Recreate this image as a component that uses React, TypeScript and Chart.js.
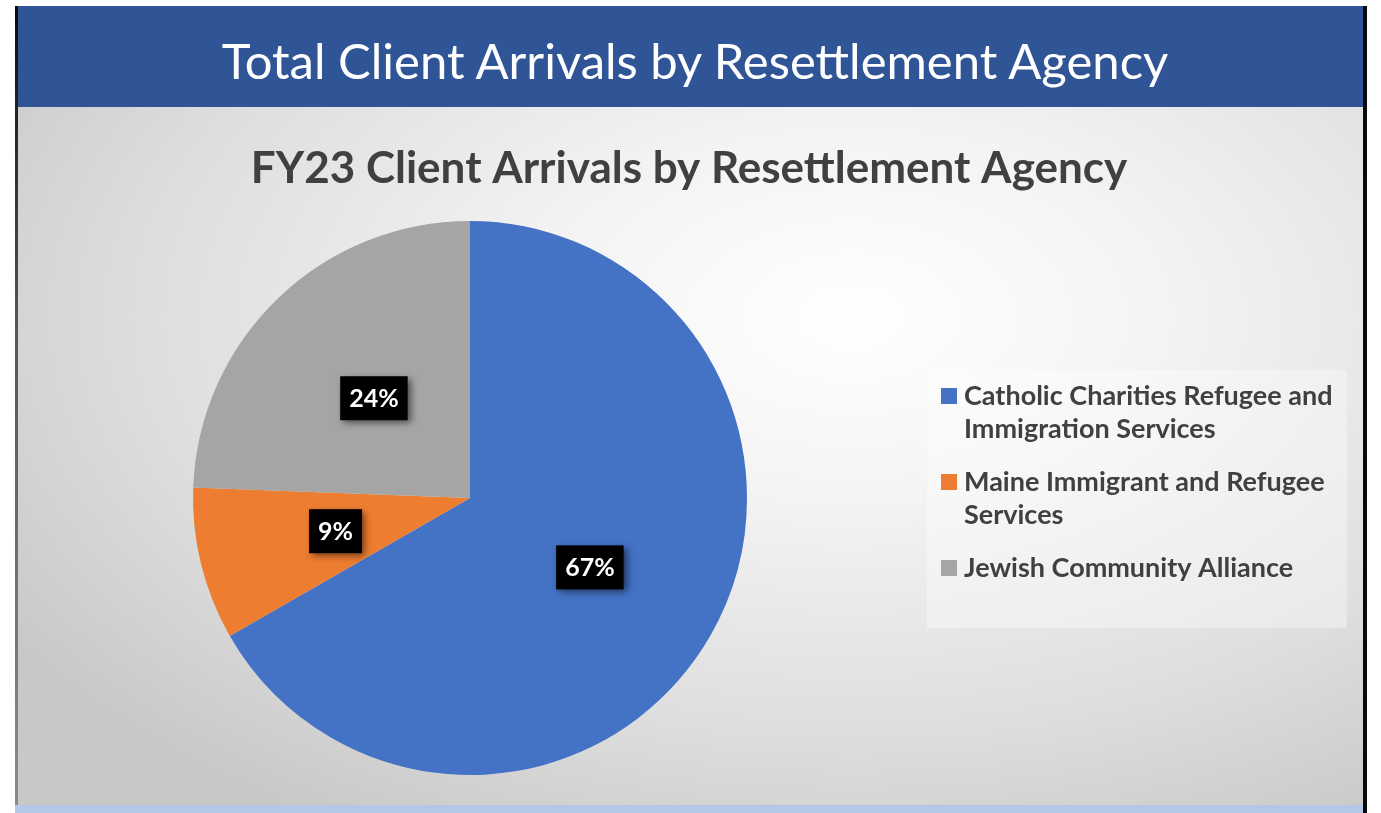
import React, { useEffect, useRef } from "react";
import { Chart, registerables } from "chart.js";

Chart.register(...registerables);

const bannerTitle = "Total Client Arrivals by Resettlement Agency";
const chartTitle = "FY23 Client Arrivals by Resettlement Agency";
const agencies = [
  "Catholic Charities Refugee and Immigration Services",
  "Maine Immigrant and Refugee Services",
  "Jewish Community Alliance",
];
const legendLines = [
  ["Catholic Charities Refugee and", "Immigration Services"],
  ["Maine Immigrant and Refugee", "Services"],
  ["Jewish Community Alliance"],
];
const shares = [66.7, 8.9, 24.4];
const sliceColors = ["#4472C4", "#ED7D31", "#A5A5A5"];

const FONT = "Lato, 'Open Sans', 'DejaVu Sans', sans-serif";

const dataLabelPlugin = {
  id: "boxedLabels",
  afterDatasetsDraw(chart: any) {
    const ctx = chart.ctx;
    const meta = chart.getDatasetMeta(0);
    const values = chart.data.datasets[0].data as number[];
    const total = values.reduce((a, b) => a + b, 0);
    ctx.save();
    ctx.font = `bold 25px ${FONT}`;
    ctx.textAlign = "center";
    ctx.textBaseline = "middle";
    meta.data.forEach((arc: any, i: number) => {
      const pos = arc.tooltipPosition();
      const text = Math.round((values[i] / total) * 100) + "%";
      const w = ctx.measureText(text).width + 18;
      const h = 44;
      ctx.save();
      ctx.shadowColor = "rgba(0,0,0,0.55)";
      ctx.shadowBlur = 7;
      ctx.shadowOffsetX = 3;
      ctx.shadowOffsetY = 3;
      ctx.fillStyle = "#000000";
      ctx.fillRect(pos.x - w / 2, pos.y - h / 2, w, h);
      ctx.restore();
      ctx.fillStyle = "#ffffff";
      ctx.fillText(text, pos.x, pos.y + 1);
    });
    ctx.restore();
  },
};

const headerAndLegendPlugin = {
  id: "headerAndLegend",
  afterDraw(chart: any) {
    const ctx = chart.ctx;
    ctx.save();
    // chart title
    ctx.font = `bold 44px ${FONT}`;
    ctx.fillStyle = "#404040";
    ctx.textAlign = "center";
    ctx.textBaseline = "middle";
    ctx.fillText(chartTitle, 671, 62);

    // legend box
    ctx.fillStyle = "rgba(255,255,255,0.35)";
    ctx.fillRect(909, 263, 420, 258);

    const colors = chart.data.datasets[0].backgroundColor as string[];
    ctx.font = `bold 27px ${FONT}`;
    ctx.textAlign = "left";
    ctx.textBaseline = "alphabetic";
    let baseline = 298;
    legendLines.forEach((lines, i) => {
      ctx.fillStyle = colors[i];
      ctx.fillRect(923, baseline - 17, 16, 16);
      ctx.fillStyle = "#404040";
      lines.forEach((line, j) => {
        ctx.fillText(line, 946, baseline);
        if (j < lines.length - 1) baseline += 33;
      });
      baseline += 53;
    });
    ctx.restore();
  },
};

export default function App() {
  const canvasRef = useRef<HTMLCanvasElement | null>(null);

  useEffect(() => {
    if (!canvasRef.current) return;
    const chart = new Chart(canvasRef.current, {
      type: "pie",
      data: {
        labels: agencies,
        datasets: [
          {
            data: shares,
            backgroundColor: sliceColors,
            borderWidth: 0,
          },
        ],
      },
      options: {
        animation: false,
        responsive: false,
        maintainAspectRatio: false,
        layout: { padding: { left: 175, right: 616, top: 114, bottom: 30 } },
        plugins: {
          legend: { display: false },
          tooltip: { enabled: false },
          title: { display: false },
        },
      },
      plugins: [dataLabelPlugin, headerAndLegendPlugin],
    });
    return () => chart.destroy();
  }, []);

  return (
    <div style={{ position: "absolute", left: 0, top: 0, width: 1381, height: 813, background: "#ffffff", overflow: "hidden" }}>
      <div style={{ position: "absolute", left: 15, top: 6, width: 1351, height: 101, background: "#2F5597" }} />
      <div
        style={{
          position: "absolute",
          left: 0,
          top: 10,
          width: 1390,
          height: 101,
          lineHeight: "101px",
          textAlign: "center",
          color: "#ffffff",
          fontFamily: FONT,
          fontSize: 49,
          whiteSpace: "nowrap",
        }}
      >
        {bannerTitle}
      </div>
      <div
        style={{
          position: "absolute",
          left: 18,
          top: 107,
          width: 1345,
          height: 698,
          background:
            "radial-gradient(ellipse 75% 85% at 62% 30%, #ffffff 0%, #f4f4f4 30%, #dedede 70%, #c8c8c8 100%)",
        }}
      >
        <canvas ref={canvasRef} width={1345} height={698} style={{ display: "block", width: 1345, height: 698 }} />
      </div>
      <div style={{ position: "absolute", left: 15, top: 805, width: 1348, height: 8, background: "#B4C7E7" }} />
      <div
        style={{
          position: "absolute",
          left: 15,
          top: 6,
          width: 3,
          height: 799,
          background: "linear-gradient(#0a0a0a, #555 40%, #8a8a8a)",
        }}
      />
      <div style={{ position: "absolute", left: 1363, top: 6, width: 4, height: 807, background: "#0a0a0a" }} />
    </div>
  );
}
